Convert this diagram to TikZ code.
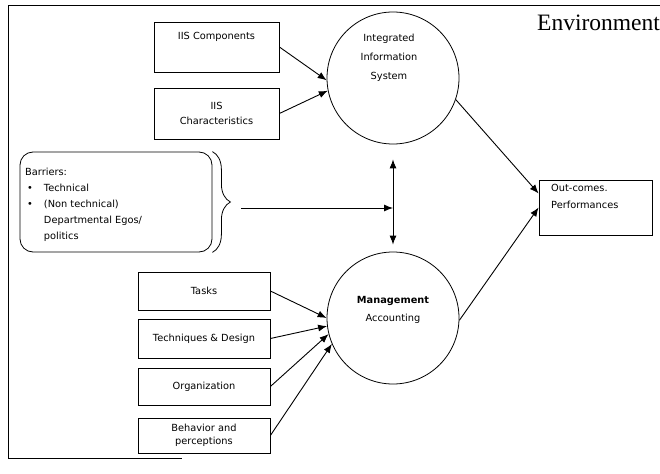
\documentclass[tikz,border=0pt]{standalone}
\usepackage{fontspec}
\setmainfont{DejaVu Sans}
\newfontfamily\envfont{Liberation Serif}
\usetikzlibrary{arrows.meta,decorations.pathreplacing}

\tikzset{
  box/.style={draw,line width=0.8pt,minimum width=125pt,inner sep=0pt},
  blob/.style={draw,circle,line width=0.8pt,minimum size=132pt,inner sep=0pt},
  txt/.style={font=\fontsize{9.8}{15}\selectfont,align=center,inner sep=0pt},
  arr/.style={line width=0.9pt,-{Latex[length=9pt,width=7pt]}}
}

\begin{document}
\begin{tikzpicture}[x=1pt,y=-1pt]
 \useasboundingbox (0,0) rectangle (660,473);
 \draw[line width=1pt] (660,6)--(8,6)--(8,458)--(182,458);

 \node[font=\envfont\fontsize{23.5}{26}\selectfont,anchor=base west,inner sep=0pt] (env) at (537,31) {Environment};

 % top part
 \node[box,minimum height=50pt] (comp) at (216.5,47) {};
 \node[txt] (comptext) at (216.5,37) {IIS Components};
 \node[box,minimum height=51pt,txt,font=\fontsize{9.8}{15}\selectfont] (char) at (216.5,113.5) {IIS\\Characteristics};
 \node[blob] (iis) at (393,78) {};
 \node[txt,font=\fontsize{9.8}{19}\selectfont] (iistext) at (389,58) {Integrated\\Information\\System};

 % barriers
 \node[draw,line width=0.8pt,rounded corners=13pt,minimum width=192pt,minimum height=100pt,inner sep=0pt] (bar) at (116,202) {};
 \node[anchor=north west,inner sep=0pt,font=\fontsize{9.8}{16}\selectfont] (bartext) at (25,164)
   {\begin{tabular}{@{\hspace{2pt}}l@{\hspace{11pt}}l@{}}
    \multicolumn{2}{@{}l}{Barriers:}\\
    \textbullet & Technical\\
    \textbullet & (Non technical)\\
     & Departmental Egos/\\
     & politics
   \end{tabular}};
 \draw[line width=0.8pt,decorate,decoration={brace,amplitude=18pt,aspect=0.5}] (bar.north east) -- (bar.south east);
 \coordinate (bartip) at (241,208);
 \coordinate (midpt) at (393,208);

 % management side
 \node[blob] (ma) at (393,318) {};
 \node[txt,font=\fontsize{9.8}{18}\selectfont] (matext) at (393,310) {\textbf{Management}\\Accounting};
 \node[box,minimum width=132pt,minimum height=38pt,txt] (tasks) at (204,291) {Tasks};
 \node[box,minimum width=132pt,minimum height=39pt,txt] (tech) at (204,338.5) {Techniques \& Design};
 \node[box,minimum width=132pt,minimum height=37pt,txt] (org) at (204,386.5) {Organization};
 \node[box,minimum width=132pt,minimum height=35pt,txt,font=\fontsize{9.8}{12.5}\selectfont] (behav) at (204,435.5) {Behavior and\\perceptions};

 \node[box,minimum width=113pt,minimum height=55pt] (out) at (595.5,207.5) {};
 \node[txt,align=left,anchor=north west,font=\fontsize{9.8}{17}\selectfont] (outtext) at (551,184) {Out-comes.\\Performances};

 % arrows
 \draw[arr] (comp.east) -- (iis.182);
 \draw[arr] (char.east) -- (iis.191);
 \draw[arr] (tasks.east) -- (ma.180);
 \draw[arr] (tech.east) -- (ma.187);
 \draw[arr] (org.east) -- (ma.194);
 \draw[arr] (behav.east) -- (ma.203);
 \draw[arr] (iis.341) -- ([yshift=14pt]out.west);
 \draw[arr] (ma.358) -- (out.west);
 \draw[arr,{Latex[length=9pt,width=7pt]}-{Latex[length=9pt,width=7pt]}] ([yshift=-15pt]iis.south) -- ([yshift=7pt]ma.north);
 \draw[arr] (bartip) -- (midpt);
\end{tikzpicture}
\end{document}
